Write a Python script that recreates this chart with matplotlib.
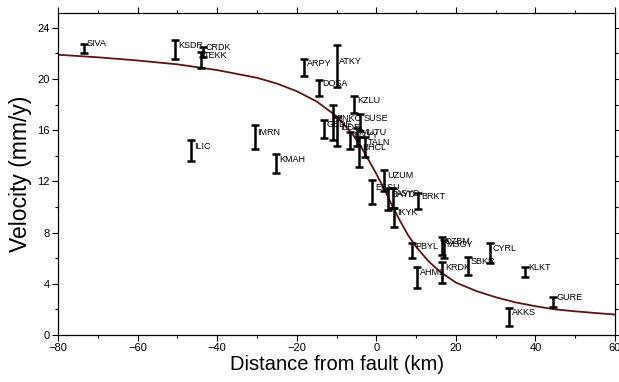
import numpy
from matplotlib import pyplot
from matplotlib.ticker import MultipleLocator

pyplot.rcParams['font.family'] = ['Liberation Sans', 'DejaVu Sans']

# GPS stations: name, distance from fault (km), velocity (mm/y), 1-sigma error
names = ['SIVA', 'KSDR', 'CRDK', 'TEKK', 'ILIC', 'IMRN', 'KMAH', 'ARPY', 'ATKY', 'DOSA',
         'KZLU', 'BNKC', 'GEDE', 'ILDE', 'SUSE', 'MUTU', 'EGYY', 'TALN', 'BHCL',
         'EKSU', 'UZUM', 'BAYD', 'ASYD', 'IKYK', 'BRKT', 'PBYL', 'OZBM', 'MSGY',
         'KRDK', 'AHML', 'SBKR', 'CYRL', 'KLKT', 'AKKS', 'GURE']
dist = [-73.4, -50.5, -43.5, -44.0, -46.6, -30.6, -25.1, -18.1, -10.0, -14.3,
        -5.5, -10.8, -13.1, -9.8, -4.0, -4.8, -6.5, -2.8, -4.3,
        -1.0, 2.0, 3.0, 4.3, 4.5, 10.6, 9.0, 16.6, 16.9,
        16.6, 10.3, 23.1, 28.6, 37.4, 33.4, 44.5]
vel = [22.4, 22.3, 22.1, 21.5, 14.4, 15.5, 13.4, 20.9, 21.0, 19.3,
       18.0, 16.6, 16.1, 15.9, 16.6, 15.5, 15.2, 14.7, 14.3,
       11.2, 12.1, 10.6, 10.7, 9.2, 10.5, 6.6, 6.95, 6.7,
       4.9, 4.5, 5.4, 6.4, 4.9, 1.4, 2.6]
err = [0.35, 0.73, 0.4, 0.65, 0.82, 0.94, 0.78, 0.7, 1.64, 0.66,
       0.64, 1.37, 0.7, 1.1, 0.66, 0.7, 0.7, 0.78, 1.2,
       0.94, 0.82, 0.86, 0.78, 0.74, 0.63, 0.6, 0.7, 0.7,
       0.8, 0.82, 0.7, 0.78, 0.4, 0.7, 0.4]

# model curve
curve_x = [-80, -70, -60, -50, -40, -30, -25, -20, -15, -10, -6, -4, -2, 0,
           2, 4, 6, 8, 10, 13, 16, 20, 25, 30, 35, 40, 45, 50, 55, 60]
curve_v = [21.9, 21.7, 21.45, 21.15, 20.7, 20.1, 19.65, 19.05, 18.25, 17.1, 15.7, 14.8, 13.7, 12.6,
           11.4, 10.1, 8.9, 7.8, 6.9, 5.8, 4.95, 4.1, 3.45, 2.95, 2.55, 2.25, 2.0, 1.85, 1.72, 1.6]

fig = pyplot.figure(figsize=(6.19, 3.82), dpi=100)
ax = fig.add_axes([58 / 619, 47 / 382, 557 / 619, 322.5 / 382])

ax.plot(curve_x, curve_v, color='#5e1414', lw=1.3, zorder=2)
ax.errorbar(dist, vel, yerr=err, fmt='none', ecolor='black', elinewidth=1.8,
            capsize=3.2, capthick=1.8, zorder=3)
for n, x, v in zip(names, dist, vel):
  ax.annotate(n, (x, v), xytext=(2, 0), textcoords='offset points',
              fontsize=6.5, ha='left', va='bottom', zorder=4)

ax.set_xlim(-80, 60)
ax.set_ylim(0, 25.2)
ax.xaxis.set_major_locator(MultipleLocator(20))
ax.xaxis.set_minor_locator(MultipleLocator(10))
ax.yaxis.set_major_locator(MultipleLocator(4))
ax.yaxis.set_minor_locator(MultipleLocator(2))
ax.tick_params(which='both', direction='out', top=True, right=True,
               labeltop=False, labelright=False, labelsize=8, width=0.8, pad=2)
ax.tick_params(which='major', length=4)
ax.tick_params(which='minor', length=2.5)
for s in ax.spines.values():
  s.set_linewidth(0.9)

ax.set_xlabel('Distance from fault (km)', fontsize=14.5, labelpad=1)
ax.set_ylabel('Velocity (mm/y)', fontsize=16.5, labelpad=4)

fig.savefig('out.png', dpi=100)
